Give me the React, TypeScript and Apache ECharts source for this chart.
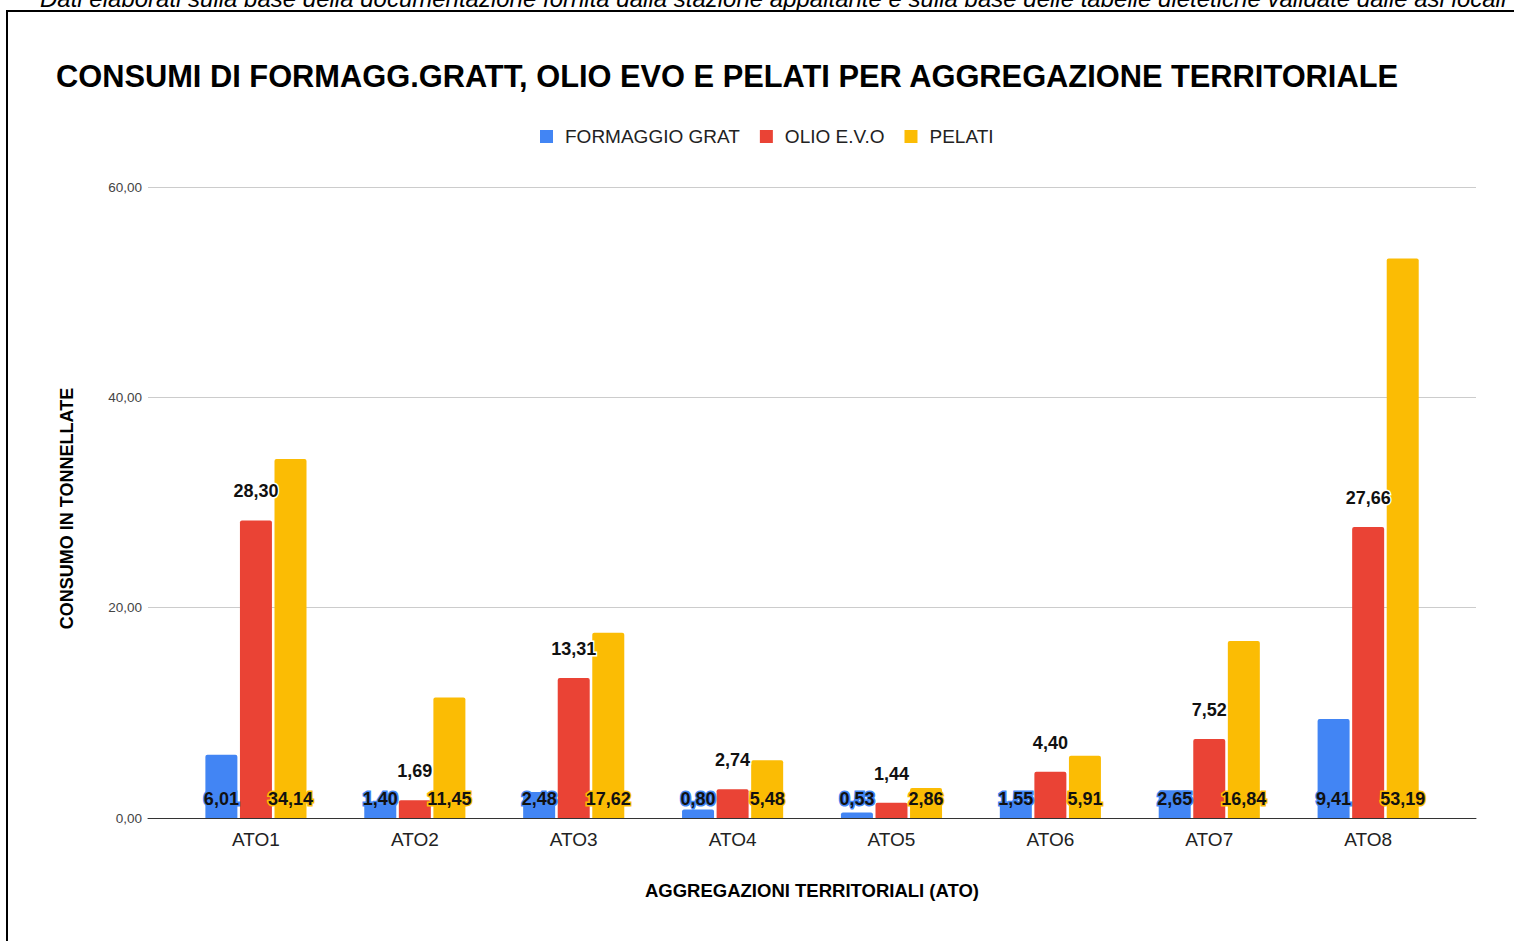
import React, { useEffect, useRef } from "react";
import * as echarts from "echarts";

const categories = ["ATO1", "ATO2", "ATO3", "ATO4", "ATO5", "ATO6", "ATO7", "ATO8"];
const formaggio = [6.01, 1.4, 2.48, 0.8, 0.53, 1.55, 2.65, 9.41];
const olio = [28.3, 1.69, 13.31, 2.74, 1.44, 4.4, 7.52, 27.66];
const pelati = [34.14, 11.45, 17.62, 5.48, 2.86, 5.91, 16.84, 53.19];
const seriesNames = ["FORMAGGIO GRAT", "OLIO E.V.O", "PELATI"];
const colors = ["#4285F4", "#EA4335", "#FBBC04"];
const titleText = "CONSUMI DI FORMAGG.GRATT, OLIO EVO E PELATI PER AGGREGAZIONE TERRITORIALE";
const noteText =
  "Dati elaborati sulla base della documentazione fornita dalla stazione appaltante e sulla base delle tabelle dietetiche validate dalle asl locali";
const yName = "CONSUMO IN TONNELLATE";
const xName = "AGGREGAZIONI TERRITORIALI (ATO)";

const FONT = '"Liberation Sans", Arial, sans-serif';
const fmt = (v: number) => v.toFixed(2).replace(".", ",");

export default function App() {
  const ref = useRef<HTMLDivElement>(null);
  useEffect(() => {
    if (!ref.current) return;
    const chart = echarts.init(ref.current, null, { renderer: "svg" });
    const bottomLabel = (c: string) => ({
      show: true,
      position: "insideBottom" as const,
      distance: 10,
      formatter: (p: any) => fmt(p.value),
      color: "#111",
      fontFamily: FONT,
      fontWeight: "bold" as const,
      fontSize: 18,
      textBorderColor: c,
      textBorderWidth: 3,
    });
    chart.setOption({
      animation: false,
      backgroundColor: "#fff",
      textStyle: { fontFamily: FONT },
      title: {
        text: titleText,
        left: 51,
        top: 56,
        textStyle: { fontFamily: FONT, fontSize: 30.8, fontWeight: "bold", color: "#000" },
      },
      legend: {
        top: 122,
        left: 535,
        icon: "rect",
        itemWidth: 13,
        itemHeight: 13,
        itemGap: 20,
        data: seriesNames,
        textStyle: { fontFamily: FONT, fontSize: 19, color: "#222", padding: [0, 0, 0, 7] },
      },
      graphic: [
        {
          type: "rect",
          shape: { x: 7, y: 11, width: 1600, height: 1100 },
          style: { fill: "none", stroke: "#000", lineWidth: 2 },
          silent: true,
        },
        {
          type: "text",
          x: 40,
          y: 10,
          style: {
            text: noteText,
            fontFamily: FONT,
            fontStyle: "italic",
            fontSize: 24,
            fill: "#000",
            textVerticalAlign: "bottom",
          },
          silent: true,
        },
      ],
      grid: [
        { left: 148, right: 38, top: 187, bottom: 123 },
        { left: 176.5, right: 66.4, top: 187, bottom: 123 },
      ],
      xAxis: [
        {
          gridIndex: 0,
          type: "value",
          min: 0,
          max: 1,
          axisLabel: { show: false },
          axisTick: { show: false },
          splitLine: { show: false },
          axisLine: { show: true, lineStyle: { color: "#333", width: 1 } },
          name: xName,
          nameLocation: "middle",
          nameGap: 63,
          nameTextStyle: { fontFamily: FONT, fontSize: 18.5, fontWeight: "bold", color: "#000" },
        },
        {
          gridIndex: 1,
          type: "category",
          data: categories,
          axisLine: { show: false },
          axisTick: { show: false },
          axisLabel: { margin: 12, fontFamily: FONT, fontSize: 19, color: "#222" },
        },
      ],
      yAxis: [
        {
          gridIndex: 0,
          type: "value",
          min: 0,
          max: 60,
          interval: 20,
          axisLine: { show: false },
          axisTick: { show: false },
          axisLabel: { margin: 6, fontFamily: FONT, fontSize: 13.5, color: "#444", formatter: (v: number) => fmt(v) },
          splitLine: { show: true, lineStyle: { color: "#ccc", width: 1 } },
          name: yName,
          nameLocation: "middle",
          nameGap: 72,
          nameRotate: 90,
          nameTextStyle: { fontFamily: FONT, fontSize: 18, fontWeight: "bold", color: "#000", padding: [0, 12, 0, 0] },
        },
        {
          gridIndex: 1,
          type: "value",
          min: 0,
          max: 60,
          show: false,
          splitLine: { show: false },
        },
      ],
      series: [
        {
          name: seriesNames[0],
          type: "bar",
          xAxisIndex: 1,
          yAxisIndex: 1,
          data: formaggio,
          barWidth: 32,
          barGap: "8%",
          itemStyle: { color: colors[0], borderRadius: [2, 2, 0, 0] },
          label: bottomLabel(colors[0]),
        },
        {
          name: seriesNames[1],
          type: "bar",
          xAxisIndex: 1,
          yAxisIndex: 1,
          data: olio,
          barWidth: 32,
          barGap: "8%",
          itemStyle: { color: colors[1], borderRadius: [2, 2, 0, 0] },
          label: {
            show: true,
            position: "top",
            distance: 20,
            formatter: (p: any) => fmt(p.value),
            color: "#111",
            fontFamily: FONT,
            fontWeight: "bold",
            fontSize: 18,
            textBorderColor: "#fff",
            textBorderWidth: 3,
          },
        },
        {
          name: seriesNames[2],
          type: "bar",
          xAxisIndex: 1,
          yAxisIndex: 1,
          data: pelati,
          barWidth: 32,
          barGap: "8%",
          itemStyle: { color: colors[2], borderRadius: [2, 2, 0, 0] },
          label: bottomLabel(colors[2]),
        },
      ],
    });
    return () => chart.dispose();
  }, []);
  return (
    <div
      ref={ref}
      style={{ position: "fixed", left: 0, top: 0, width: 1514, height: 941, background: "#fff" }}
    />
  );
}
